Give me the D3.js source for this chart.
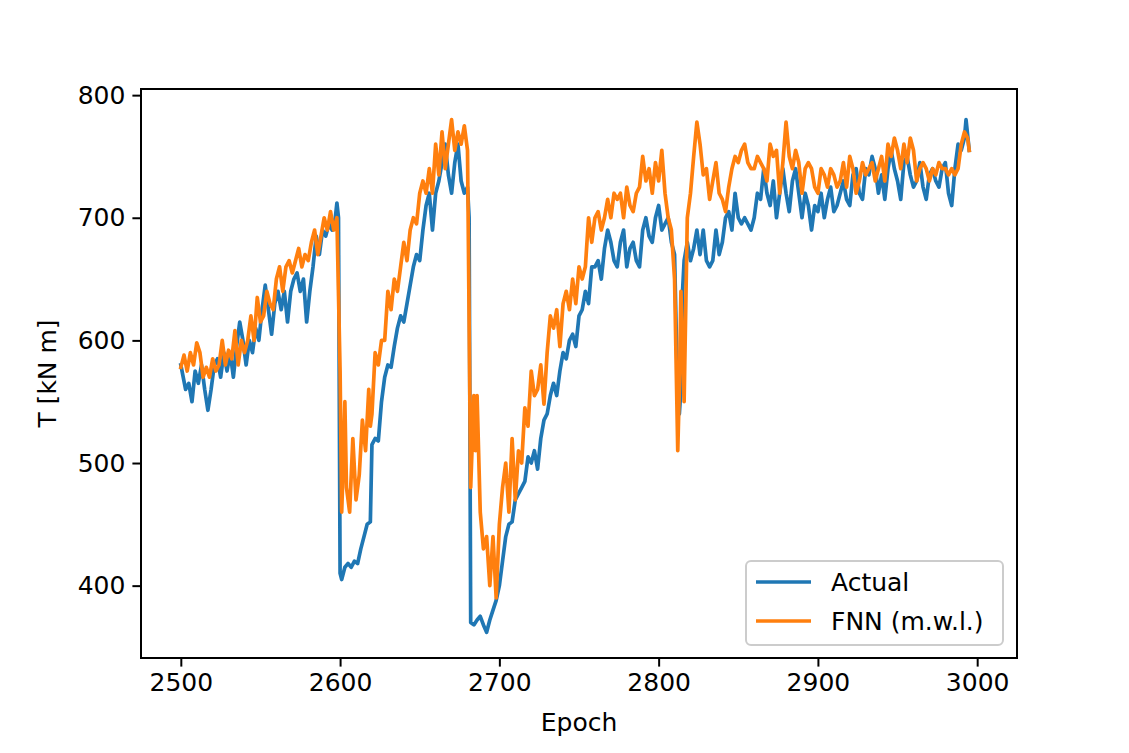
<!DOCTYPE html>
<html>
<head>
<meta charset="utf-8">
<script src="https://cdn.jsdelivr.net/npm/d3@7"></script>
<style>
  body { margin: 0; background: #fff; }
  svg { display: block; }
  text { font-family: "DejaVu Sans", sans-serif; fill: #000; }
</style>
</head>
<body>
<svg id="chart" width="1129" height="753"></svg>
<script>
// ---- data ----
const seriesNames = ["Actual", "FNN (m.w.l.)"];
const xTicks = [2500, 2600, 2700, 2800, 2900, 3000];
const yTicks = [400, 500, 600, 700, 800];

const actualEpoch = [2500,2503,2505,2507,2509,2511,2513,2515,2517,2519,2521,2523,2525,2527,2529,2531,2533,2535,2537,2539,2541,2543,2545,2547,2549,2551,2553,2555,2557,2559,2561,2563,2565,2567,2569,2571,2573,2575,2577,2579,2581,2583,2585,2587,2589,2591,2593,2595,2597,2598,2599,2600,2601,2603,2605,2607,2609,2611,2613,2615,2617,2619,2620,2622,2624,2626,2628,2630,2632,2634,2636,2638,2640,2642,2644,2646,2648,2650,2652,2654,2656,2658,2660,2662,2664,2666,2668,2670,2672,2674,2676,2678,2680,2681,2682,2684,2686,2688,2690,2692,2694,2696,2698,2700,2702,2704,2706,2708,2710,2712,2714,2716,2718,2720,2722,2724,2726,2728,2730,2732,2734,2736,2738,2740,2742,2744,2746,2748,2750,2752,2754,2756,2758,2760,2762,2764,2766,2768,2770,2772,2774,2776,2778,2780,2782,2784,2786,2788,2790,2792,2794,2796,2798,2800,2802,2804,2806,2808,2810,2812,2813,2814,2815,2816,2818,2820,2822,2824,2826,2828,2830,2832,2834,2836,2838,2840,2842,2844,2846,2848,2850,2852,2854,2856,2858,2860,2862,2864,2866,2868,2870,2872,2874,2876,2878,2880,2882,2884,2886,2888,2890,2892,2894,2896,2898,2900,2902,2904,2906,2908,2910,2912,2914,2916,2918,2920,2922,2924,2926,2928,2930,2932,2934,2936,2938,2940,2942,2944,2946,2948,2950,2952,2954,2956,2958,2960,2962,2964,2966,2968,2970,2972,2974,2976,2978,2980,2982,2984,2986,2988,2990,2992,2993,2995];
const actualValue = [580,560,565,550,575,565,580,560,543,560,580,585,570,590,575,590,570,595,615,600,580,600,590,610,600,625,645,625,605,630,640,625,640,615,640,650,655,640,650,615,640,660,685,670,690,685,695,690,700,712,700,410,405,415,418,415,420,418,430,440,450,452,515,520,518,550,570,580,578,595,610,620,615,630,645,660,670,665,690,710,720,690,720,730,745,760,735,720,745,760,730,720,725,700,370,368,372,375,368,362,372,380,388,400,420,440,450,452,470,475,480,485,505,500,510,495,520,535,540,555,565,555,575,590,585,600,605,595,620,625,640,630,660,660,665,650,675,690,680,665,660,680,690,660,675,680,665,660,690,700,685,680,700,710,690,695,700,680,670,550,540,560,640,665,680,665,675,690,670,690,665,660,665,690,670,680,700,705,690,720,700,695,700,695,690,700,720,715,740,720,710,730,700,720,740,720,705,730,740,720,700,720,710,690,710,705,720,700,715,725,705,710,720,730,715,710,735,740,720,715,740,735,750,740,720,735,715,740,755,740,730,715,745,750,735,725,730,745,725,715,735,740,730,725,740,745,720,710,740,760,755,765,780,755];

const fnnEpoch = [2500,2502,2504,2506,2508,2510,2512,2514,2516,2518,2520,2522,2524,2526,2528,2530,2532,2534,2536,2538,2540,2542,2544,2546,2548,2550,2552,2554,2556,2558,2560,2562,2564,2566,2568,2570,2572,2574,2576,2578,2580,2582,2584,2586,2588,2590,2592,2594,2596,2598,2600,2601,2602,2603,2604,2606,2608,2610,2612,2614,2616,2618,2619,2620,2622,2624,2626,2628,2630,2632,2634,2636,2638,2640,2642,2644,2646,2648,2650,2652,2654,2656,2658,2660,2662,2664,2666,2668,2670,2672,2674,2676,2678,2680,2682,2684,2685,2686,2688,2690,2692,2694,2696,2698,2700,2702,2704,2706,2708,2710,2712,2714,2716,2718,2720,2722,2724,2726,2728,2730,2732,2734,2736,2738,2740,2742,2744,2746,2748,2750,2752,2754,2756,2758,2760,2762,2764,2766,2768,2770,2772,2774,2776,2778,2780,2782,2784,2786,2788,2790,2792,2794,2796,2798,2800,2802,2804,2806,2808,2810,2812,2813,2814,2816,2818,2820,2822,2824,2826,2828,2830,2832,2834,2836,2838,2840,2842,2844,2846,2848,2850,2852,2854,2856,2858,2860,2862,2864,2866,2868,2870,2872,2874,2876,2878,2880,2882,2884,2886,2888,2890,2892,2894,2896,2898,2900,2902,2904,2906,2908,2910,2912,2914,2916,2918,2920,2922,2924,2926,2928,2930,2932,2934,2936,2938,2940,2942,2944,2946,2948,2950,2952,2954,2956,2958,2960,2962,2964,2966,2968,2970,2972,2974,2976,2978,2980,2982,2984,2986,2988,2990,2992,2994,2995];
const fnnValue = [578,588,575,590,580,598,590,570,578,570,585,575,580,600,580,592,585,608,580,600,590,600,620,600,635,615,620,640,630,625,650,660,640,660,665,655,665,675,660,670,665,680,690,670,685,700,690,705,690,700,575,460,500,550,480,460,520,470,490,535,510,560,530,540,590,580,600,600,640,625,650,640,660,680,665,690,700,695,720,730,720,740,720,760,735,770,740,760,780,755,770,760,775,755,480,555,510,555,460,430,440,400,440,390,450,480,500,460,520,470,510,500,545,530,575,555,560,580,548,590,620,610,625,595,630,640,625,650,630,660,650,660,700,680,700,705,690,700,715,700,720,715,720,700,725,710,705,720,725,750,730,740,720,745,730,755,720,700,690,650,510,560,640,550,700,720,750,778,760,735,740,715,730,745,720,715,705,725,740,750,745,755,760,745,740,740,750,745,740,730,760,750,755,720,745,778,750,740,755,745,720,740,745,740,725,720,740,735,725,740,735,725,730,745,725,750,740,720,730,745,735,740,745,730,740,750,730,760,750,765,755,740,760,745,765,755,730,740,745,740,730,740,735,745,740,740,735,740,735,740,760,770,765,755];

// ---- layout ----
const svg = d3.select("#chart");
const L = 141, R = 1017, T = 89, B = 658;
const fs = 25;

const x = d3.scaleLinear().domain([2475, 3025]).range([L, R]);
const y = d3.scaleLinear().domain([341, 805]).range([B, T]);

const colors = ["#1f77b4", "#ff7f0e"];
const series = [
  actualEpoch.map((e, i) => [e, actualValue[i]]),
  fnnEpoch.map((e, i) => [e, fnnValue[i]])
];

const clip = svg.append("clipPath").attr("id", "clip")
  .append("rect").attr("x", L).attr("y", T).attr("width", R - L).attr("height", B - T);

const line = d3.line().x(d => x(d[0])).y(d => y(d[1]));
const g = svg.append("g").attr("clip-path", "url(#clip)");
series.forEach((s, i) => {
  g.append("path").datum(s)
    .attr("d", line)
    .attr("fill", "none")
    .attr("stroke", colors[i])
    .attr("stroke-width", 3.7)
    .attr("stroke-linejoin", "round")
    .attr("stroke-linecap", "square");
});

// axes
const xAxis = d3.axisBottom(x).tickValues(xTicks).tickSize(8.6).tickPadding(7).tickFormat(d3.format("d"));
const yAxis = d3.axisLeft(y).tickValues(yTicks).tickSize(8.6).tickPadding(7).tickFormat(d3.format("d"));

const gx = svg.append("g").attr("transform", `translate(0,${B})`).call(xAxis);
const gy = svg.append("g").attr("transform", `translate(${L},0)`).call(yAxis);
[gx, gy].forEach(a => {
  a.select(".domain").remove();
  a.selectAll(".tick line").attr("stroke", "#000").attr("stroke-width", 2);
  a.selectAll(".tick text").style("font-size", fs + "px").style("font-family", "DejaVu Sans");
});

// frame
svg.append("rect").attr("x", L).attr("y", T).attr("width", R - L).attr("height", B - T)
  .attr("fill", "none").attr("stroke", "#000").attr("stroke-width", 2);

// labels
svg.append("text").attr("x", (L + R) / 2).attr("y", 731)
  .attr("text-anchor", "middle").style("font-size", fs + "px").text("Epoch");
svg.append("text").attr("transform", `translate(56,${(T + B) / 2}) rotate(-90)`)
  .attr("text-anchor", "middle").style("font-size", fs + "px").text("T [kN m]");

// legend
const lg = svg.append("g");
lg.append("rect").attr("x", 746).attr("y", 561).attr("width", 257).attr("height", 84)
  .attr("rx", 5).attr("fill", "#fff").attr("fill-opacity", 0.8)
  .attr("stroke", "#cccccc").attr("stroke-width", 2);
seriesNames.forEach((n, i) => {
  const yy = 582 + i * 39;
  lg.append("line").attr("x1", 756).attr("x2", 811).attr("y1", yy).attr("y2", yy)
    .attr("stroke", colors[i]).attr("stroke-width", 3.7);
  lg.append("text").attr("x", 831).attr("y", yy + 9).style("font-size", fs + "px").text(n);
});
</script>
</body>
</html>
